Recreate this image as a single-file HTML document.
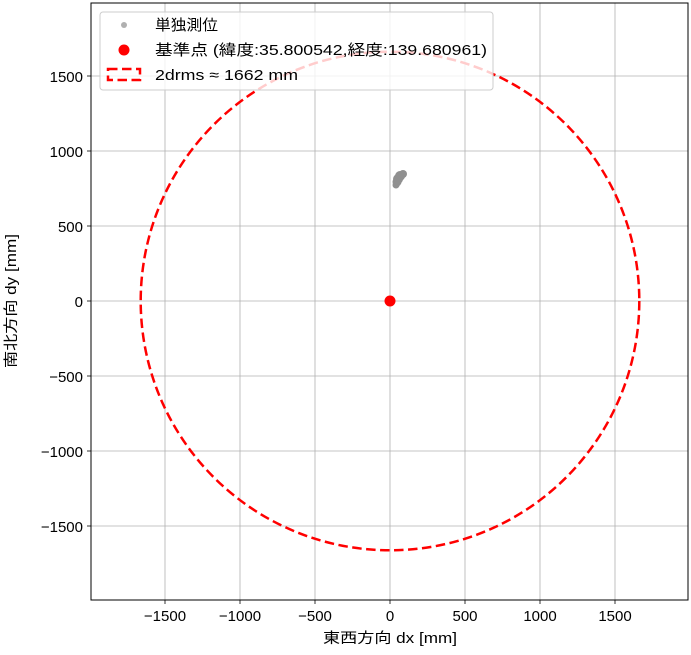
<!DOCTYPE html>
<html><head><meta charset="utf-8"><style>
body{margin:0;background:#fff;}
text{font-family:"Liberation Sans","Noto Sans CJK JP",sans-serif;}
</style></head><body>
<svg width="691" height="650" xmlns="http://www.w3.org/2000/svg">
<rect width="691" height="650" fill="#fff"/>
<g stroke="#b0b0b0" stroke-width="0.8">
<line x1="165" y1="3" x2="165" y2="600"/><line x1="240" y1="3" x2="240" y2="600"/><line x1="315" y1="3" x2="315" y2="600"/><line x1="390" y1="3" x2="390" y2="600"/><line x1="465" y1="3" x2="465" y2="600"/><line x1="540" y1="3" x2="540" y2="600"/><line x1="615" y1="3" x2="615" y2="600"/>
<line x1="91" y1="76" x2="688" y2="76"/><line x1="91" y1="151" x2="688" y2="151"/><line x1="91" y1="226" x2="688" y2="226"/><line x1="91" y1="301" x2="688" y2="301"/><line x1="91" y1="376" x2="688" y2="376"/><line x1="91" y1="451" x2="688" y2="451"/><line x1="91" y1="526" x2="688" y2="526"/>
</g>
<circle cx="390" cy="301" r="249.3" fill="none" stroke="#f00" stroke-width="2.5" stroke-dasharray="9.5,4.5"/>
<g fill="#909090">
<circle cx="400" cy="176" r="5"/><circle cx="397" cy="182" r="4.5"/><circle cx="403" cy="174" r="4"/><circle cx="396" cy="185" r="3.5"/><circle cx="398" cy="179" r="5"/>
</g>
<circle cx="390" cy="301" r="5.5" fill="#f00"/>
<rect x="91" y="3" width="597" height="597" fill="none" stroke="#000" stroke-width="1"/>
<g stroke="#000" stroke-width="0.8">
<line x1="165" y1="600" x2="165" y2="604"/><line x1="240" y1="600" x2="240" y2="604"/><line x1="315" y1="600" x2="315" y2="604"/><line x1="390" y1="600" x2="390" y2="604"/><line x1="465" y1="600" x2="465" y2="604"/><line x1="540" y1="600" x2="540" y2="604"/><line x1="615" y1="600" x2="615" y2="604"/>
<line x1="87" y1="76" x2="91" y2="76"/><line x1="87" y1="151" x2="91" y2="151"/><line x1="87" y1="226" x2="91" y2="226"/><line x1="87" y1="301" x2="91" y2="301"/><line x1="87" y1="376" x2="91" y2="376"/><line x1="87" y1="451" x2="91" y2="451"/><line x1="87" y1="526" x2="91" y2="526"/>
</g>
<g font-size="15" fill="#000" text-anchor="middle">
<text x="165" y="621">−1500</text><text x="240" y="621">−1000</text><text x="315" y="621">−500</text><text x="390" y="621">0</text><text x="465" y="621">500</text><text x="540" y="621">1000</text><text x="615" y="621">1500</text>
</g>
<g font-size="15" fill="#000" text-anchor="end">
<text x="83" y="82">1500</text><text x="83" y="157">1000</text><text x="83" y="232">500</text><text x="83" y="307">0</text><text x="83" y="382">−500</text><text x="83" y="457">−1000</text><text x="83" y="532">−1500</text>
</g>
<text x="323" y="643" font-size="14.5" textLength="134" lengthAdjust="spacingAndGlyphs">東西方向 dx [mm]</text>
<text transform="translate(16,368) rotate(-90)" font-size="14.5" textLength="134" lengthAdjust="spacingAndGlyphs">南北方向 dy [mm]</text>
<rect x="100" y="12" width="393" height="78" rx="3" fill="#fff" fill-opacity="0.8" stroke="#ccc" stroke-width="1"/>
<circle cx="124" cy="25" r="3" fill="#b0b0b0"/>
<circle cx="124" cy="50" r="5.5" fill="#f00"/>
<rect x="108" y="69" width="32" height="11" fill="none" stroke="#f00" stroke-width="2.5" stroke-dasharray="9.5,4.5"/>
<g font-size="15" fill="#000">
<text x="155" y="30" textLength="63" lengthAdjust="spacingAndGlyphs">単独測位</text>
<text x="155" y="55" textLength="332" lengthAdjust="spacingAndGlyphs">基準点 (緯度:35.800542,経度:139.680961)</text>
<text x="155" y="80" textLength="143" lengthAdjust="spacingAndGlyphs">2drms ≈ 1662 mm</text>
</g>
</svg>
</body></html>
